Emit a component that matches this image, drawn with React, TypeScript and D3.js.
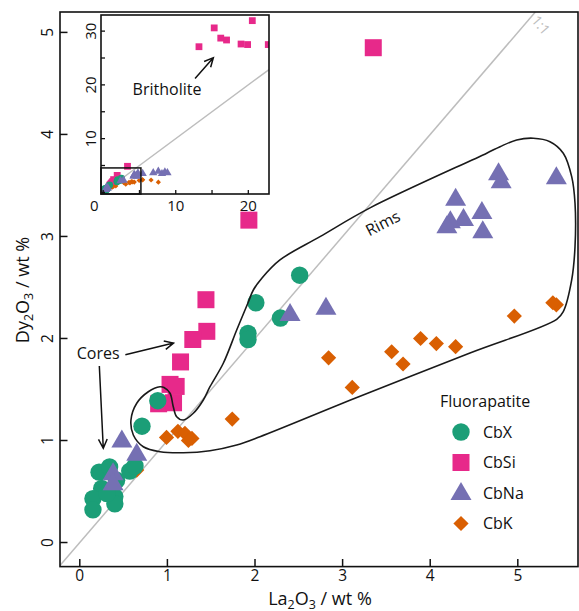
import React from 'react';
import * as d3 from 'd3';

type Pt = [number, number];

// La2O3 (x), Dy2O3 (y) in wt %
const cbX: Pt[] = [
  [2.51, 2.62], [2.01, 2.35], [1.92, 2.05], [1.92, 1.99], [2.29, 2.2],
  [0.89, 1.39], [0.71, 1.14], [0.22, 0.69], [0.34, 0.74], [0.57, 0.7],
  [0.63, 0.75], [0.42, 0.61], [0.25, 0.53], [0.15, 0.43], [0.15, 0.32],
  [0.4, 0.45], [0.4, 0.38], [0.31, 0.48],
];
const cbSi: Pt[] = [
  [3.35, 4.85], [1.93, 3.16], [1.44, 2.38], [1.45, 2.07], [1.29, 1.99],
  [1.15, 1.77], [1.03, 1.55], [1.1, 1.53], [0.9, 1.36], [1.07, 1.37],
];
const britholite: Pt[] = [
  [13.2, 27.1], [15.3, 30.6], [16.2, 28.7], [17.0, 28.35], [19.0, 27.6],
  [19.9, 27.5], [20.55, 31.95], [22.75, 27.5],
];
const cbNa: Pt[] = [
  [5.44, 3.58], [4.78, 3.62], [4.81, 3.54], [4.29, 3.37], [4.59, 3.24],
  [4.38, 3.17], [4.23, 3.15], [4.19, 3.1], [4.6, 3.05], [2.81, 2.3],
  [2.4, 2.24], [0.48, 1.0], [0.65, 0.87], [0.38, 0.68], [0.38, 0.58],
  // beyond the main axes, only seen in the inset
  [6.9, 3.7], [7.6, 4.0], [8.1, 3.55], [8.5, 3.85], [8.85, 3.7],
];
const cbK: Pt[] = [
  [5.44, 2.33], [5.4, 2.35], [4.96, 2.22], [3.89, 2.0], [4.07, 1.95],
  [4.29, 1.92], [3.56, 1.87], [3.69, 1.75], [2.84, 1.81], [3.11, 1.52],
  [1.74, 1.21], [0.99, 1.03], [1.12, 1.09], [1.2, 1.07], [1.24, 1.0],
  [1.28, 1.02], [0.65, 0.71],
  [6.6, 2.3], [7.6, 1.9],
];

// hand drawn envelope around the cores + rims fields
const envelope: Pt[] = [
  [0.915, 1.527], [0.782, 1.478], [0.65, 1.365], [0.584, 1.201], [0.611, 1.054],
  [0.725, 0.939], [0.916, 0.89], [1.182, 0.88], [1.486, 0.9], [1.791, 0.956],
  [2.057, 1.037], [3.141, 1.414], [4.454, 1.858], [5.444, 2.188], [5.519, 2.263],
  [5.615, 2.574], [5.653, 2.9], [5.653, 3.325], [5.615, 3.586], [5.519, 3.816],
  [5.367, 3.929], [5.177, 3.963], [4.987, 3.946], [4.797, 3.88], [4.645, 3.816],
  [3.313, 3.28], [2.742, 2.998], [2.285, 2.77], [2.08, 2.593], [1.981, 2.475],
  [1.924, 2.358], [1.791, 2.083], [1.638, 1.757], [1.486, 1.527], [1.41, 1.397],
  [1.296, 1.267], [1.182, 1.201], [1.106, 1.233], [1.067, 1.331], [1.03, 1.463],
  [0.961, 1.52],
];

const xTicks = [0, 1, 2, 3, 4, 5];
const yTicks = [0, 1, 2, 3, 4, 5];
const insetTicks = [0, 5, 10, 15, 20, 25, 30];
const insetXLabels = [0, 10, 20];
const insetYLabels = [10, 20, 30];
const zoomBox = { x: [-0.3, 5.2], y: [-0.3, 4.55] };
const legendOrder = ['CbX', 'CbSi', 'CbNa', 'CbK'];

const FONT = '"Open Sans", "Noto Sans", sans-serif';
const colors = { CbX: '#1b9e77', CbSi: '#e7298a', CbNa: '#7570b3', CbK: '#d95f02' };
type Shape = 'circle' | 'square' | 'triangle' | 'diamond';

const series: { name: keyof typeof colors; shape: Shape; data: Pt[] }[] = [
  { name: 'CbSi', shape: 'square', data: [...cbSi, ...britholite] },
  { name: 'CbK', shape: 'diamond', data: cbK },
  { name: 'CbX', shape: 'circle', data: cbX },
  { name: 'CbNa', shape: 'triangle', data: cbNa },
];

function Marker({ shape, cx, cy, s, fill }: { shape: Shape; cx: number; cy: number; s: number; fill: string }) {
  if (shape === 'circle') return <circle cx={cx} cy={cy} r={8.7 * s} fill={fill} />;
  if (shape === 'square')
    return <rect x={cx - 8.5 * s} y={cy - 8.5 * s} width={17 * s} height={17 * s} fill={fill} />;
  if (shape === 'triangle')
    return (
      <path
        d={`M${cx},${cy - 11 * s}L${cx + 10.5 * s},${cy + 7 * s}L${cx - 10.5 * s},${cy + 7 * s}Z`}
        fill={fill}
      />
    );
  const h = 7.6 * s;
  return <path d={`M${cx},${cy - h}L${cx + h},${cy}L${cx},${cy + h}L${cx - h},${cy}Z`} fill={fill} />;
}

function arrow(x1: number, y1: number, x2: number, y2: number, len = 10) {
  const a = Math.atan2(y2 - y1, x2 - x1);
  const p = (d: number) => [x2 - len * Math.cos(a + d), y2 - len * Math.sin(a + d)];
  const [ax, ay] = p(0.45);
  const [bx, by] = p(-0.45);
  return `M${x1},${y1}L${x2},${y2}M${ax},${ay}L${x2},${y2}L${bx},${by}`;
}

function OxideLabel({ el }: { el: string }) {
  return (
    <>
      {el}
      <tspan dy={3.5} fontSize={12.5}>2</tspan>
      <tspan dy={-3.5}>O</tspan>
      <tspan dy={3.5} fontSize={12.5}>3</tspan>
      <tspan dy={-3.5}> / wt %</tspan>
    </>
  );
}

export default function App() {
  const W = 579;
  const H = 611;
  const x = d3.scaleLinear().domain([-0.226, 5.687]).range([60, 578]);
  const y = d3.scaleLinear().domain([-0.236, 5.2]).range([566.6, 12]);
  const ix = d3.scaleLinear().domain([-0.3, 22.85]).range([101, 269]);
  const iy = d3.scaleLinear().domain([-0.3, 33]).range([194, 15]);

  const envPath = d3
    .line<Pt>()
    .x((d) => x(d[0]))
    .y((d) => y(d[1]))
    .curve(d3.curveCatmullRomClosed.alpha(0.5))(envelope) as string;

  const [x0, x1] = x.domain();
  const [y0, y1] = y.domain();
  const lo = Math.max(x0, y0);
  const hi = Math.min(x1, y1);
  const [ix0, ix1] = ix.domain();
  const [iy0, iy1] = iy.domain();
  const ilo = Math.max(ix0, iy0);
  const ihi = Math.min(ix1, iy1);

  const legendSeries = legendOrder.map((n) => series.find((s) => s.name === n)!);

  return (
    <svg
      width={W}
      height={H}
      style={{ position: 'absolute', left: 0, top: 0, background: '#fff' }}
      fontFamily={FONT}
    >
      <defs>
        <clipPath id="main-clip">
          <rect x={60} y={12} width={518} height={554.6} />
        </clipPath>
        <clipPath id="inset-clip">
          <rect x={101} y={15} width={168} height={179} />
        </clipPath>
      </defs>

      {/* 1:1 line */}
      <line x1={x(lo)} y1={y(lo)} x2={x(hi)} y2={y(hi)} stroke="#bdbdbd" strokeWidth={1.5} />
      <text
        transform={`translate(${x(5.22)},${y(5.04)}) rotate(49.3)`}
        fill="#bdbdbd"
        fontSize={14}
        textAnchor="middle"
      >
        1:1
      </text>

      <g clipPath="url(#main-clip)">
        {series.map((s) =>
          s.data.map((d, i) => (
            <Marker key={s.name + i} shape={s.shape} cx={x(d[0])} cy={y(d[1])} s={1} fill={colors[s.name]} />
          )),
        )}
        <path d={envPath} fill="none" stroke="#1a1a1a" strokeWidth={1.6} />
      </g>

      {/* annotations */}
      <text x={x(0.21)} y={y(1.85)} dy="0.35em" fontSize={16} textAnchor="middle" fill="#111">
        Cores
      </text>
      <path d={arrow(x(0.52), y(1.84), x(1.07), y(1.955))} fill="none" stroke="#111" strokeWidth={1.5} />
      <path d={arrow(x(0.223), y(1.73), x(0.268), y(0.924))} fill="none" stroke="#111" strokeWidth={1.5} />
      <text
        transform={`translate(${x(3.46)},${y(3.13)}) rotate(-27)`}
        dy="0.35em"
        fontSize={16}
        textAnchor="middle"
        fill="#111"
      >
        Rims
      </text>

      {/* main frame and axes */}
      <rect x={60} y={12} width={518} height={554.6} fill="none" stroke="#111" strokeWidth={1.6} />
      {xTicks.map((t) => (
        <g key={'x' + t}>
          <line x1={x(t)} x2={x(t)} y1={566.6} y2={559} stroke="#111" strokeWidth={1.5} />
          <text x={x(t)} y={581} fontSize={15.5} textAnchor="middle" fill="#111">
            {t}
          </text>
        </g>
      ))}
      {yTicks.map((t) => (
        <g key={'y' + t}>
          <line x1={60} x2={67.5} y1={y(t)} y2={y(t)} stroke="#111" strokeWidth={1.5} />
          <text
            transform={`translate(${53},${y(t)}) rotate(-90)`}
            fontSize={15.5}
            textAnchor="middle"
            fill="#111"
          >
            {t}
          </text>
        </g>
      ))}
      <text x={320} y={605} fontSize={18} textAnchor="middle" fill="#111">
        <OxideLabel el="La" />
      </text>
      <text transform="translate(29,290) rotate(-90)" fontSize={18} textAnchor="middle" fill="#111">
        <OxideLabel el="Dy" />
      </text>

      {/* legend */}
      <text x={440} y={407} fontSize={16} fill="#111">
        Fluorapatite
      </text>
      {legendSeries.map((s, i) => (
        <g key={'leg' + s.name}>
          <Marker shape={s.shape} cx={461} cy={432 + i * 30.5} s={1} fill={colors[s.name]} />
          <text x={483} y={432 + i * 30.5} dy="0.35em" fontSize={16} fill="#111">
            {s.name}
          </text>
        </g>
      ))}

      {/* inset */}
      <rect x={101} y={15} width={168} height={179} fill="#fff" />
      <line x1={ix(ilo)} y1={iy(ilo)} x2={ix(ihi)} y2={iy(ihi)} stroke="#bdbdbd" strokeWidth={1.5} />
      <g clipPath="url(#inset-clip)">
        {series.map((s) =>
          s.data.map((d, i) => (
            <Marker
              key={'i' + s.name + i}
              shape={s.shape}
              cx={ix(d[0])}
              cy={iy(d[1])}
              s={s.shape === 'diamond' ? 0.34 : 0.4}
              fill={colors[s.name]}
            />
          )),
        )}
      </g>
      <rect
        x={ix(zoomBox.x[0])}
        y={iy(zoomBox.y[1])}
        width={ix(zoomBox.x[1]) - ix(zoomBox.x[0])}
        height={iy(zoomBox.y[0]) - iy(zoomBox.y[1])}
        fill="none"
        stroke="#111"
        strokeWidth={1.5}
      />
      <text x={ix(8.8)} y={iy(19.2)} dy="0.35em" fontSize={16} textAnchor="middle" fill="#111">
        Britholite
      </text>
      <path d={arrow(ix(12.66), iy(21.2), ix(15.18), iy(25.06))} fill="none" stroke="#111" strokeWidth={1.5} />
      <rect x={101} y={15} width={168} height={179} fill="none" stroke="#111" strokeWidth={1.6} />
      {insetTicks
        .filter((t) => t <= ix1)
        .map((t) => (
          <line key={'ixt' + t} x1={ix(t)} x2={ix(t)} y1={194} y2={190} stroke="#111" strokeWidth={1.3} />
        ))}
      {insetTicks
        .filter((t) => t <= iy1)
        .map((t) => (
          <line key={'iyt' + t} x1={101} x2={105} y1={iy(t)} y2={iy(t)} stroke="#111" strokeWidth={1.3} />
        ))}
      {insetXLabels.map((t) => (
        <text key={'ixl' + t} x={ix(t)} dx={t === 0 ? -9 : 0} y={211} fontSize={15} textAnchor="middle" fill="#111">
          {t}
        </text>
      ))}
      {insetYLabels.map((t) => (
        <text
          key={'iyl' + t}
          transform={`translate(96,${iy(t)}) rotate(-90)`}
          fontSize={15}
          textAnchor="middle"
          fill="#111"
        >
          {t}
        </text>
      ))}
    </svg>
  );
}
